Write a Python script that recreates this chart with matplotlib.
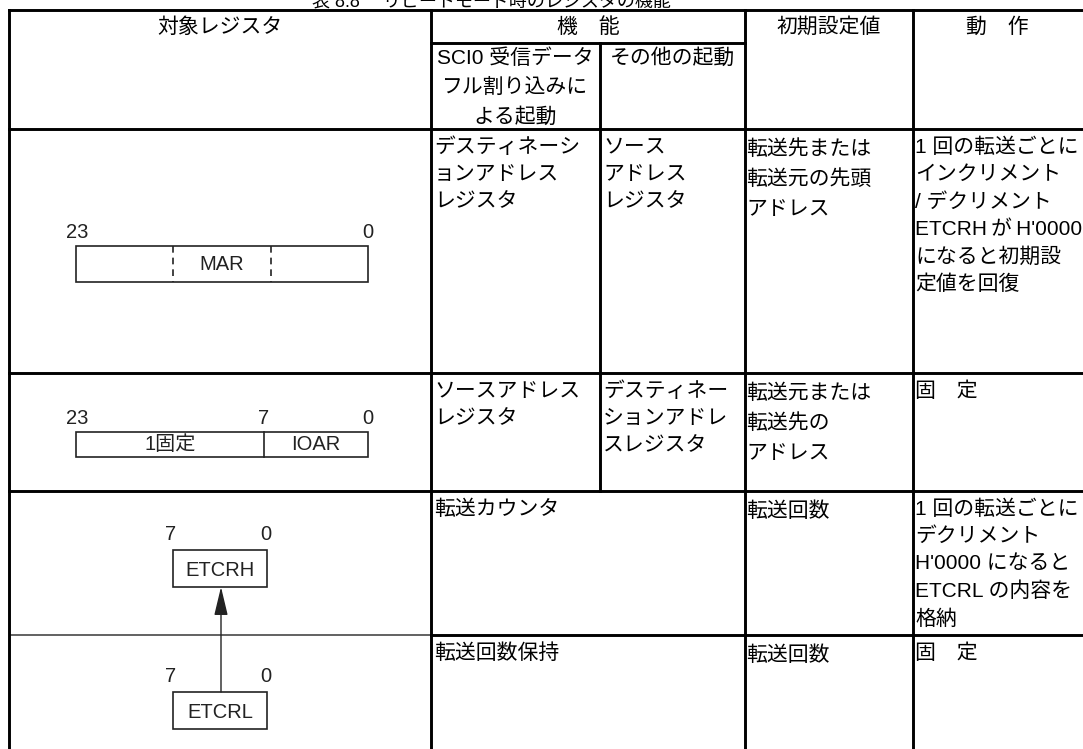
import matplotlib
matplotlib.use('Agg')
import matplotlib.pyplot as plt
from matplotlib.patches import Rectangle

JP = ['Liberation Sans', 'Noto Sans CJK JP']
plt.rcParams['font.family'] = JP

# table text
title = '表 8.8　 リピートモード時のレジスタの機能'
head_top = ['対象レジスタ', '機　能', '初期設定値', '動　作']
head_sub = [['SCI0 受信データ', 'フル割り込みに', 'よる起動'], ['その他の起動']]

func_sci = [['デスティネーシ', 'ョンアドレス', 'レジスタ'],
            ['ソースアドレス', 'レジスタ']]
func_other = [['ソース', 'アドレス', 'レジスタ'],
              ['デスティネー', 'ションアドレ', 'スレジスタ']]
func_merged = [['転送カウンタ'], ['転送回数保持']]
init_vals = [['転送先または', '転送元の先頭', 'アドレス'],
             ['転送元または', '転送先の', 'アドレス'],
             ['転送回数'],
             ['転送回数']]
actions = [['1 回の転送ごとに', 'インクリメント', '/ デクリメント',
            'ETCRH\u2009が\u2009H\'0000', 'になると初期設', '定値を回復'],
           ['固　定'],
           ['1 回の転送ごとに', 'デクリメント', 'H\'0000 になると',
            'ETCRL の内容を', '格納'],
           ['固　定']]

# register diagrams
mar_bits = ['23', '0']
ioar_bits = ['23', '7', '0']
ioar_fields = ['1固定', 'IOAR']
etc_bits = ['7', '0']
etc_names = ['ETCRH', 'ETCRL']

W, H = 1083, 749
fig = plt.figure(figsize=(W / 100, H / 100), dpi=100, facecolor='white')
ax = fig.add_axes([0, 0, 1, 1])
ax.set_xlim(0, W)
ax.set_ylim(H, 0)
ax.axis('off')

# grid geometry (pixels)
xl, x1, x2, x3, x4, xr = 9, 431, 600, 745, 913, 1086
yt, ysub, yh = 10, 43, 129
rows = [129, 373, 491, 635, 770]

lw = 2.1
def hline(y, a, b, **kw):
    kw.setdefault('color', 'black')
    kw.setdefault('lw', lw)
    ax.plot([a, b], [y, y], solid_capstyle='projecting', **kw)

def vline(x, a, b, **kw):
    kw.setdefault('color', 'black')
    kw.setdefault('lw', lw)
    ax.plot([x, x], [a, b], solid_capstyle='projecting', **kw)

hline(yt, xl, xr)
hline(ysub, x1, x3)
hline(yh, xl, xr)
hline(rows[1], xl, xr)
hline(rows[2], xl, xr)
hline(rows[3], xl + 1, x1 - 1, color='#555555', lw=1.3, zorder=1)
hline(rows[3], x1, xr)
for x in (xl, x1, x3, x4):
    vline(x, yt, rows[-1])
vline(x2, ysub, rows[2])

fs = 15
# title is cut by the top edge, as in the source page
ax.text(312, 7, title, fontsize=13, ha='left', va='baseline')

# header
hy = 27
ax.text((xl + x1) / 2, hy, head_top[0], fontsize=fs, ha='center', va='center')
ax.text((x1 + x3) / 2, hy, head_top[1], fontsize=fs, ha='center', va='center')
ax.text((x3 + x4) / 2, hy, head_top[2], fontsize=fs, ha='center', va='center')
ax.text((x4 + xr) / 2 - 2, hy, head_top[3], fontsize=fs, ha='center', va='center')
for i, s in enumerate(head_sub[0]):
    ax.text((x1 + x2) / 2, 58 + 29.5 * i, s, fontsize=fs, ha='center', va='center')
for i, s in enumerate(head_sub[1]):
    ax.text((x2 + x3) / 2, 58 + 29.5 * i, s, fontsize=fs, ha='center', va='center')

def cell(x, top, lines, step=27.5, first=18, pad=3):
    for i, s in enumerate(lines):
        ax.text(x + pad, top + first + step * i, s, fontsize=fs, ha='left', va='center')

for r in range(2):
    cell(x1, rows[r], func_sci[r])
    cell(x2, rows[r], func_other[r])
for r in range(2):
    cell(x1, rows[r + 2], func_merged[r])
for r in range(4):
    cell(x3, rows[r], init_vals[r], step=30.5, first=20, pad=1.5)
    cell(x4, rows[r], actions[r], pad=2)

# register drawings
rc = '#222222'
rfs = 14.5
bx0, bx1 = 76, 368
# MAR
ax.add_patch(Rectangle((bx0, 246), bx1 - bx0, 36, fill=False, ec=rc, lw=1.2))
for x in (173, 271):
    ax.plot([x, x], [246, 282], color=rc, lw=1.2, ls=(0, (4, 3)))
ax.text((bx0 + bx1) / 2, 265, 'MAR', fontsize=rfs, color=rc, ha='center', va='center')
ax.text(bx0 + 1, 232, mar_bits[0], fontsize=rfs, color=rc, ha='center', va='center')
ax.text(bx1, 232, mar_bits[1], fontsize=rfs, color=rc, ha='center', va='center')
# IOAR
xd = 264
ax.add_patch(Rectangle((bx0, 432), bx1 - bx0, 25, fill=False, ec=rc, lw=1.2))
ax.plot([xd, xd], [432, 457], color=rc, lw=1.2)
for x, s in zip((bx0 + 1, xd, bx1), ioar_bits):
    ax.text(x, 418, s, fontsize=rfs, color=rc, ha='center', va='center')
ax.text((bx0 + xd) / 2, 445, ioar_fields[0], fontsize=rfs, color=rc, ha='center', va='center')
ax.text((xd + bx1) / 2, 445, ioar_fields[1], fontsize=rfs, color=rc, ha='center', va='center')
# ETCRH / ETCRL
ex0, ex1 = 173, 267
for top, name in zip((550, 692), etc_names):
    ax.add_patch(Rectangle((ex0, top), ex1 - ex0, 37, fill=False, ec=rc, lw=1.2))
    ax.text((ex0 + ex1) / 2, top + 20, name, fontsize=rfs, color=rc, ha='center', va='center')
    ax.text(ex0 - 2, top - 15, etc_bits[0], fontsize=rfs, color=rc, ha='center', va='center')
    ax.text(ex1 - 1, top - 15, etc_bits[1], fontsize=rfs, color=rc, ha='center', va='center')
ax.annotate('', xy=(221, 587), xytext=(221, 692),
            arrowprops=dict(arrowstyle='-|>,head_length=1.75,head_width=0.42',
                            mutation_scale=10, lw=1.0, color=rc,
                            shrinkA=0, shrinkB=0), zorder=3)

fig.savefig('out.png', dpi=100, facecolor='white')
